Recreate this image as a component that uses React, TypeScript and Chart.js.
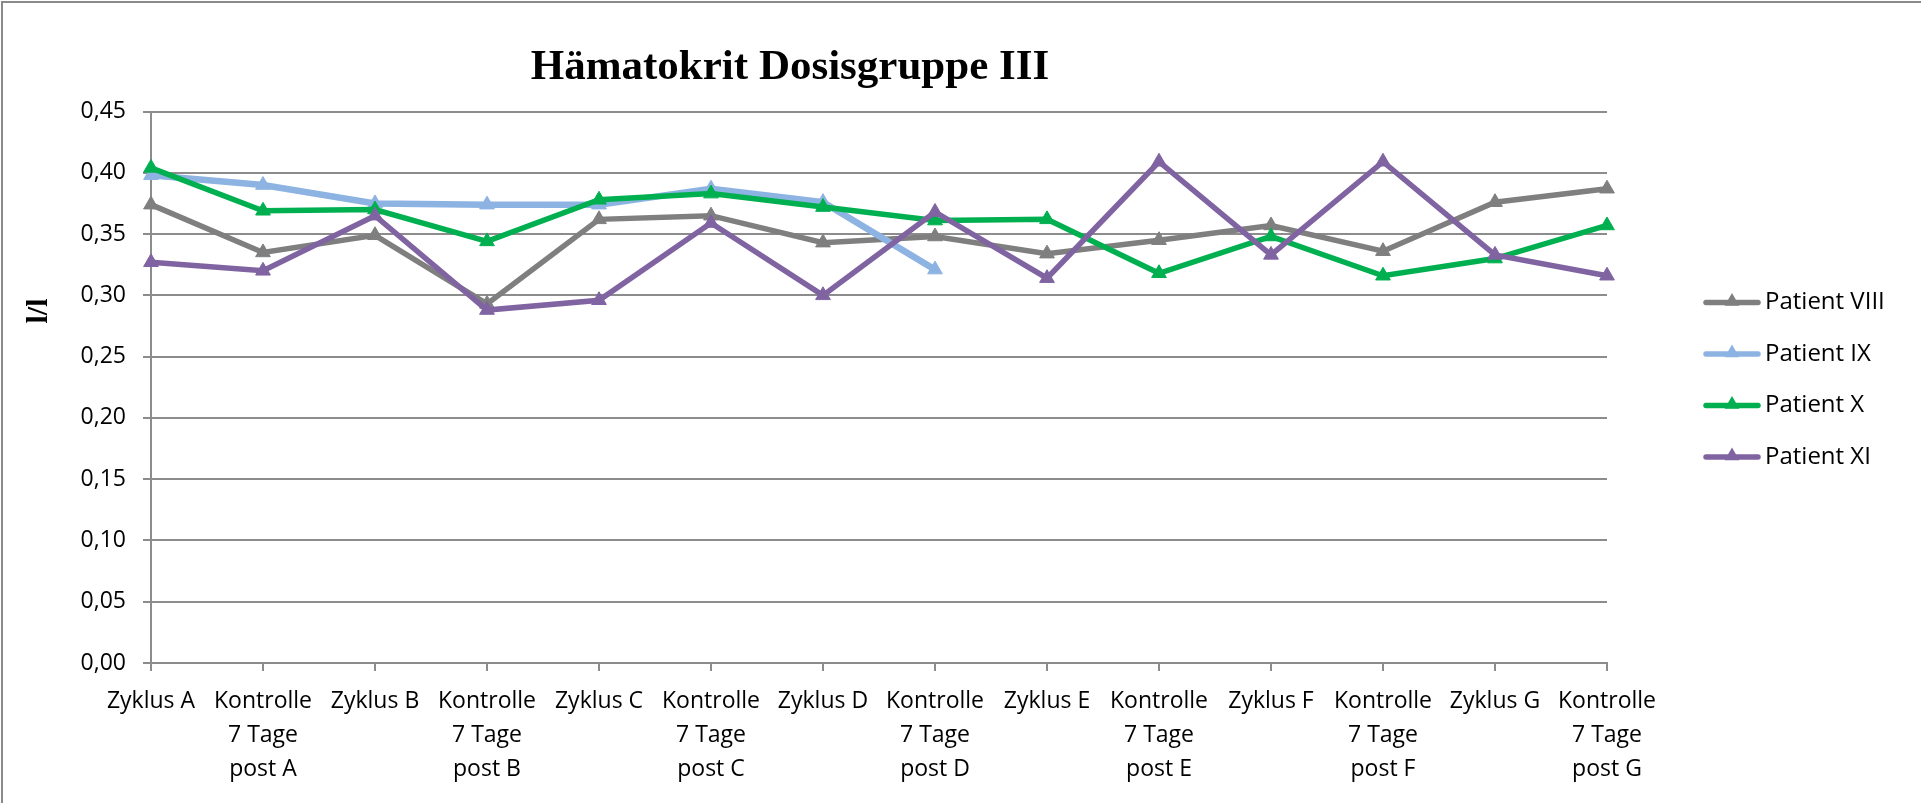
import React, { useEffect, useRef } from "react";
import { Chart, registerables } from "chart.js";

Chart.register(...registerables);

const categories: string[][] = [
  ["Zyklus A"],
  ["Kontrolle", "7 Tage", "post A"],
  ["Zyklus B"],
  ["Kontrolle", "7 Tage", "post B"],
  ["Zyklus C"],
  ["Kontrolle", "7 Tage", "post C"],
  ["Zyklus D"],
  ["Kontrolle", "7 Tage", "post D"],
  ["Zyklus E"],
  ["Kontrolle", "7 Tage", "post E"],
  ["Zyklus F"],
  ["Kontrolle", "7 Tage", "post F"],
  ["Zyklus G"],
  ["Kontrolle", "7 Tage", "post G"],
];

const patientVIII = [0.374, 0.335, 0.349, 0.293, 0.362, 0.365, 0.343, 0.348, 0.334, 0.345, 0.357, 0.336, 0.376, 0.387];
const patientIX = [0.398, 0.39, 0.375, 0.374, 0.374, 0.387, 0.376, 0.321, null, null, null, null, null, null];
const patientX = [0.404, 0.369, 0.37, 0.344, 0.378, 0.383, 0.372, 0.361, 0.362, 0.318, 0.348, 0.316, 0.33, 0.357];
const patientXI = [0.327, 0.32, 0.365, 0.288, 0.296, 0.359, 0.3, 0.368, 0.314, 0.409, 0.333, 0.409, 0.333, 0.316];

const seriesNames = ["Patient VIII", "Patient IX", "Patient X", "Patient XI"];
const seriesColors = ["#7f7f7f", "#8db3e2", "#00b050", "#8064a2"];

const chartTitle = "Hämatokrit Dosisgruppe III";
const yAxisTitle = "l/l";

const FONT = "'Open Sans', sans-serif";
const GRID = "#8c8c8c";

function triangle(ctx: CanvasRenderingContext2D, x: number, y: number, r: number) {
  ctx.beginPath();
  ctx.moveTo(x, y - r);
  ctx.lineTo(x + 0.866 * r, y + 0.5 * r);
  ctx.lineTo(x - 0.866 * r, y + 0.5 * r);
  ctx.closePath();
  ctx.fill();
}

const decorPlugin = {
  id: "decor",
  beforeDraw(chart: any) {
    const ctx = chart.ctx;
    ctx.save();
    ctx.fillStyle = "#ffffff";
    ctx.fillRect(0, 0, chart.width, chart.height);
    ctx.restore();
  },
  afterDraw(chart: any) {
    const ctx: CanvasRenderingContext2D = chart.ctx;
    ctx.save();
    // border
    ctx.strokeStyle = "#8a8a8a";
    ctx.lineWidth = 2;
    ctx.beginPath();
    ctx.moveTo(2, chart.height);
    ctx.lineTo(2, 2);
    ctx.lineTo(chart.width, 2);
    ctx.stroke();

    // title
    ctx.fillStyle = "#000";
    ctx.font = "bold 43px 'Liberation Serif', serif";
    ctx.textAlign = "center";
    ctx.textBaseline = "middle";
    ctx.fillText(chartTitle, 790, 68);

    // y title
    ctx.save();
    ctx.translate(39, 311);
    ctx.rotate(-Math.PI / 2);
    ctx.font = "bold 30px 'Liberation Serif', serif";
    ctx.fillText(yAxisTitle, 0, 0);
    ctx.restore();

    // legend
    const ds = chart.data.datasets;
    for (let i = 0; i < ds.length; i++) {
      const y = 302.6 + i * 51.5;
      ctx.strokeStyle = ds[i].borderColor;
      ctx.fillStyle = ds[i].borderColor;
      ctx.lineWidth = 5.5;
      ctx.lineCap = "round";
      ctx.beginPath();
      ctx.moveTo(1706, y);
      ctx.lineTo(1758, y);
      ctx.stroke();
      triangle(ctx, 1732, y - 1, 8.5);
      ctx.fillStyle = "#000";
      ctx.font = `24px ${FONT}`;
      ctx.textAlign = "left";
      ctx.textBaseline = "middle";
      ctx.fillText(ds[i].label, 1765, y);
    }
    ctx.restore();
  },
};

export default function App() {
  const ref = useRef<HTMLCanvasElement | null>(null);

  useEffect(() => {
    document.body.style.margin = "0";
    document.body.style.overflow = "hidden";
    const series = [patientVIII, patientIX, patientX, patientXI];
    const chart = new Chart(ref.current as HTMLCanvasElement, {
      type: "line",
      data: {
        labels: categories,
        datasets: series.map((d, i) => ({
          label: seriesNames[i],
          data: d,
          borderColor: seriesColors[i],
          backgroundColor: seriesColors[i],
          pointBackgroundColor: seriesColors[i],
          pointBorderColor: seriesColors[i],
          borderWidth: i === 1 ? 6.5 : 5.5,
          pointStyle: "triangle",
          pointRadius: 8.5,
          pointBorderWidth: 1,
          tension: 0,
          spanGaps: false,
          order: 4 - i,
        })),
      },
      options: {
        responsive: false,
        animation: false,
        layout: { padding: { left: 0, right: 314, top: 111.5, bottom: 0 } },
        plugins: {
          legend: { display: false },
          title: { display: false },
          tooltip: { enabled: false },
        },
        scales: {
          x: {
            offset: false,
            grid: {
              drawOnChartArea: false,
              drawTicks: true,
              tickLength: 8,
              color: GRID,
              lineWidth: 2,
            },
            border: { color: GRID, width: 2 },
            ticks: {
              color: "#000",
              font: { family: FONT, size: 23, lineHeight: 34 / 23 },
              padding: 13,
              maxRotation: 0,
              minRotation: 0,
              autoSkip: false,
            },
            afterFit: (s: any) => {
              s.height = 140;
              s.paddingLeft = 0;
              s.paddingRight = 0;
            },
          },
          y: {
            min: 0,
            max: 0.45,
            ticks: {
              stepSize: 0.05,
              color: "#000",
              font: { family: FONT, size: 23 },
              padding: 17,
              callback: (v: any) => Number(v).toFixed(2).replace(".", ","),
            },
            grid: { color: GRID, lineWidth: 2, tickLength: 8 },
            border: { color: GRID, width: 2 },
            afterFit: (s: any) => {
              s.width = 151;
              s.paddingTop = 0;
              s.paddingBottom = 0;
            },
          },
        },
      },
      plugins: [decorPlugin],
    });
    return () => chart.destroy();
  }, []);

  return <canvas ref={ref} width={1921} height={803} style={{ display: "block" }} />;
}
